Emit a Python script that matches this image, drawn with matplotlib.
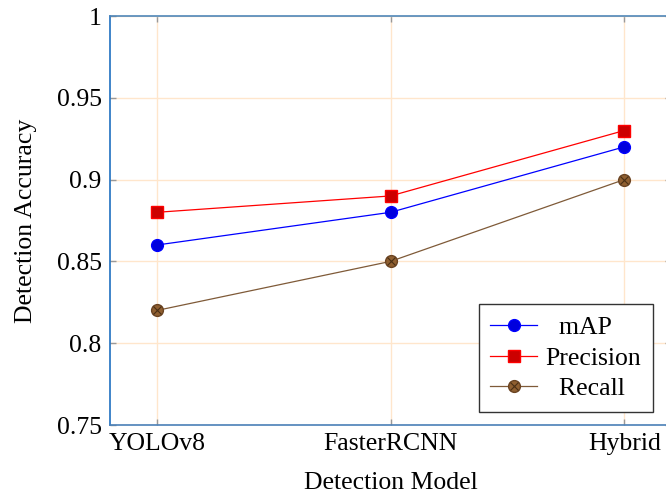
import numpy as np
import matplotlib
matplotlib.use("Agg")
import matplotlib.pyplot as plt
from matplotlib.legend_handler import HandlerTuple

# Data
models = ["YOLOv8", "FasterRCNN", "Hybrid"]
map_vals = [0.86, 0.88, 0.92]
precision_vals = [0.88, 0.89, 0.93]
recall_vals = [0.82, 0.85, 0.90]
yticks = [0.75, 0.8, 0.85, 0.9, 0.95, 1.0]
ytick_labels = ["0.75", "0.8", "0.85", "0.9", "0.95", "1"]

plt.rcParams["font.family"] = ["Liberation Serif", "DejaVu Serif"]
plt.rcParams["font.size"] = 18.5

fig = plt.figure(figsize=(6.66, 4.98), dpi=100)
ax = fig.add_axes([110 / 666, 73 / 498, 561 / 666, 409 / 498])

x = np.arange(len(models))

l1, = ax.plot(x, map_vals, color="#0000ff", lw=0.9, marker="o", ms=8.5,
              mfc="#0000dd", mec="#0000ff", zorder=3)
l2, = ax.plot(x, precision_vals, color="#ff0000", lw=0.9, marker="s", ms=8,
              mfc="#cc0000", mec="#ff0000", zorder=3)
l3, = ax.plot(x, recall_vals, color="#7f5a38", lw=0.9, marker="o", ms=8.5,
              mfc="#8f5f30", mec="#6b4423", zorder=3)
l3x, = ax.plot(x, recall_vals, ls="none", marker="x", ms=5.5, mew=0.8,
               color="#4a2f14", zorder=4)

ax.set_xlim(-0.2, 2.2)
ax.set_ylim(0.75, 1.0)
ax.set_xticks(x)
ax.set_xticklabels(models)
ax.set_yticks(yticks)
ax.set_yticklabels(ytick_labels)

ax.grid(True, color="#ffe6cc", lw=1.0)
ax.set_axisbelow(True)

ax.tick_params(direction="in", length=4, width=1, color="#999999",
               top=True, right=True, pad=6)

ax.spines["left"].set_color("#1f6fc0")
ax.spines["top"].set_color("#4f86b8")
ax.spines["bottom"].set_color("#4a80b8")
ax.spines["right"].set_color("#4a80b8")
for s in ax.spines.values():
    s.set_linewidth(1.2)

ax.set_xlabel("Detection Model", labelpad=12)
ax.set_ylabel("Detection Accuracy", labelpad=14)

leg = ax.legend([l1, l2, (l3, l3x)], ["  mAP", "Precision", "  Recall"],
                handler_map={tuple: HandlerTuple(ndivide=1, pad=0)},
                loc="lower right", bbox_to_anchor=(0.968, 0.032),
                borderaxespad=0, fancybox=False, framealpha=1,
                edgecolor="#333333", handlelength=1.8, handletextpad=0.35,
                labelspacing=0.3, borderpad=0.45)
leg.get_frame().set_linewidth(1.0)

fig.savefig("out.png", dpi=100)
